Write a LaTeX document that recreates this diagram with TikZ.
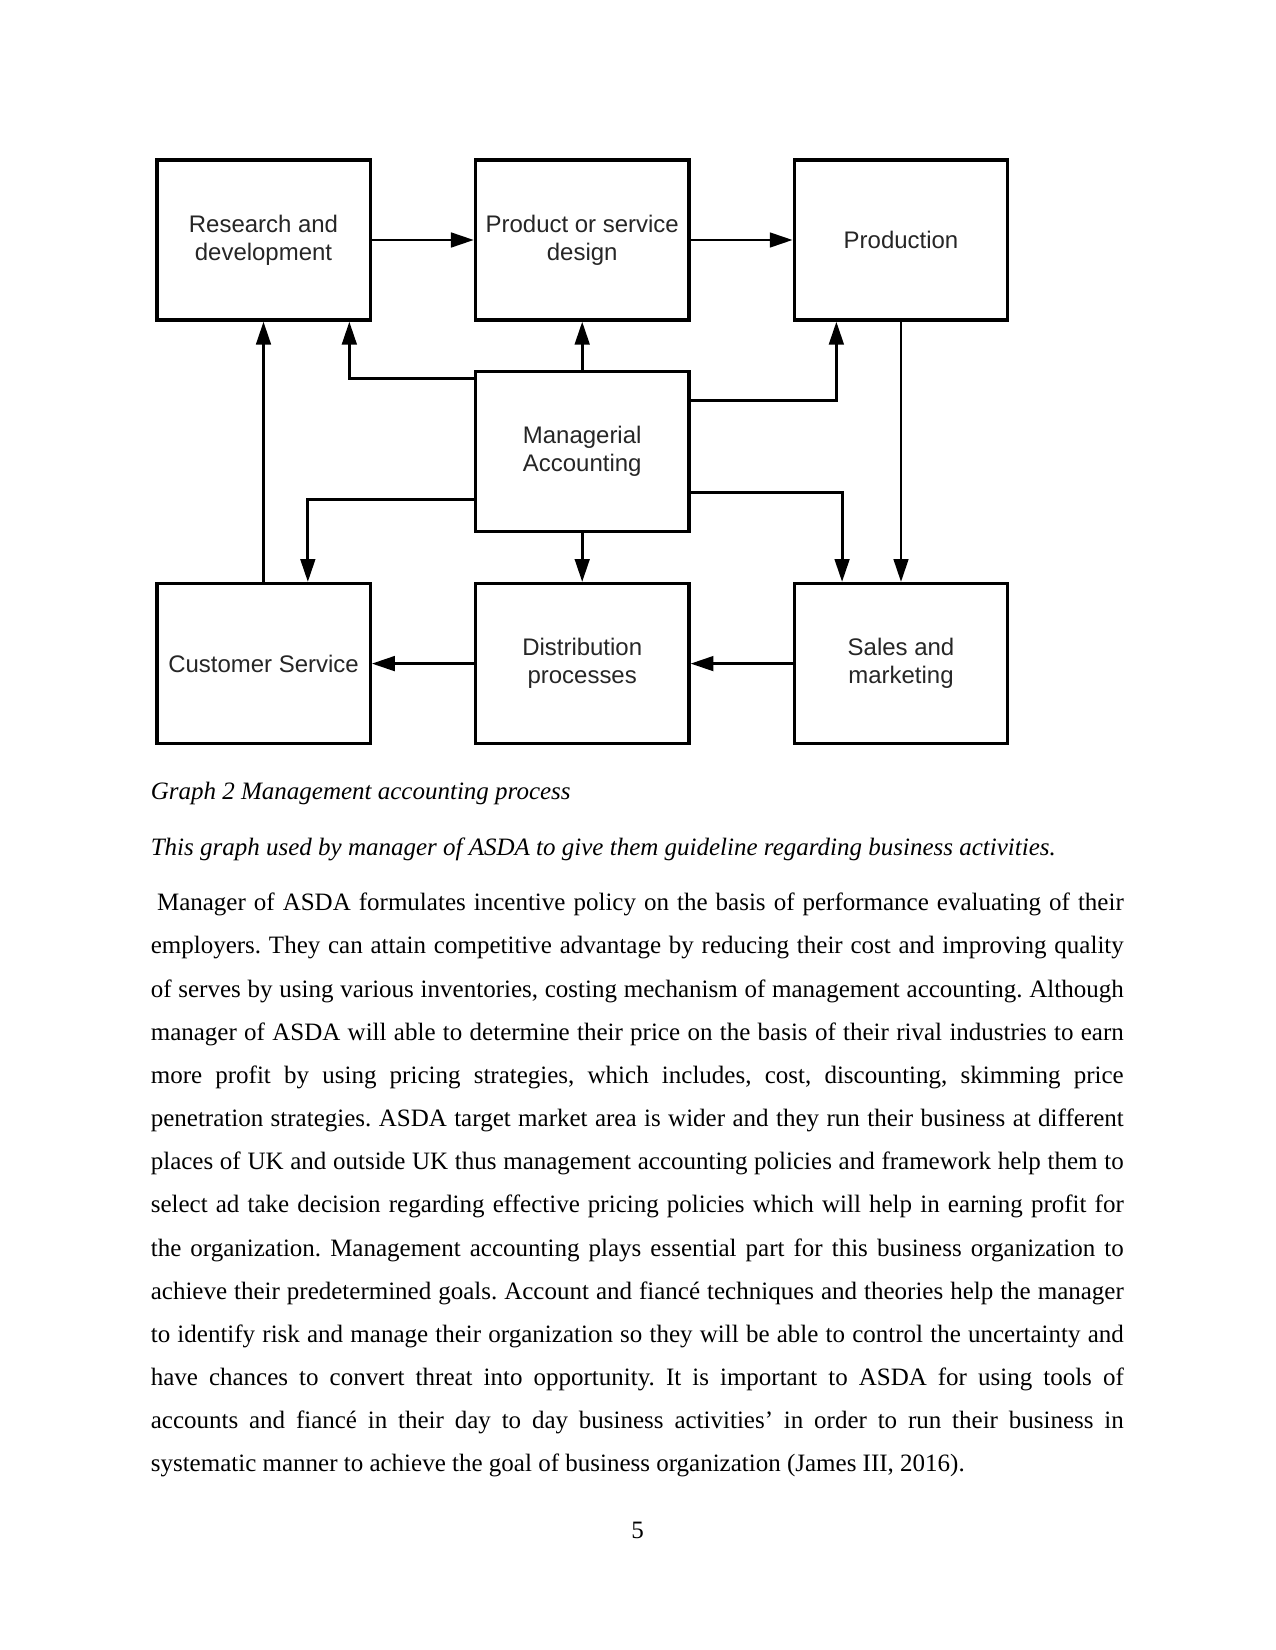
\documentclass[tikz,border=0pt]{standalone}
\usepackage{fontspec}
\setmainfont{Liberation Serif}
\newfontfamily\diagfont{Liberation Sans}
\usetikzlibrary{arrows.meta,calc}
\frenchspacing
\tikzset{
  box/.style={draw=black, line width=1.6pt, minimum width=102.4pt, minimum height=76.8pt,
    inner sep=2pt, align=center, font=\diagfont\fontsize{11.5}{13.6}\selectfont, text=black!85},
  conn/.style={line width=1.4pt, -{Triangle[length=11pt,width=7pt]}},
  bodyline/.style={anchor=base west, inner sep=0pt, font=\fontsize{12}{14}\selectfont},
  capline/.style={anchor=base west, inner sep=0pt, font=\fontsize{12}{14}\selectfont\itshape},
}
\newcommand{\jline}[1]{\makebox[467pt][s]{#1}}
\begin{document}
\begin{tikzpicture}[x=0.48pt,y=-0.48pt]
\useasboundingbox[fill=white] (0,0) rectangle (1275,1650);

% boxes
\node[box] (rd)   at (263.5,240)   {Research and\\development};
\node[box] (pd)   at (582.2,240)   {Product or service\\design};
\node[box] (prod) at (901,240)     {Production};
\node[box] (ma)   at (582.2,451.2) {Managerial\\Accounting};
\node[box] (cs)   at (263.5,663.6) {Customer Service};
\node[box] (dp)   at (582.2,663.6) {Distribution\\processes};
\node[box] (sm)   at (901,663.6)   {Sales and\\marketing};

% connectors
\draw[conn] (rd.east) -- (pd.west);
\draw[conn] (pd.east) -- (prod.west);
\draw[conn] (cs.north) -- (rd.south);
\draw[conn] ($(ma.north west)+(0,9)$) -| ($(rd.south east)+(-22.5,0)$);
\draw[conn] (ma.north) -- (pd.south);
\draw[conn] ($(ma.north east)+(0,31)$) -| ($(prod.south west)+(43.7,0)$);
\draw[conn] ($(ma.south west)+(0,-33)$) -| ($(cs.north east)+(-64,0)$);
\draw[conn] ($(ma.south east)+(0,-40)$) -| ($(sm.north west)+(49.4,0)$);
\draw[conn] (prod.south) -- (sm.north);
\draw[conn] (ma.south) -- (dp.north);
\draw[conn] (sm.west) -- (dp.east);
\draw[conn] (dp.west) -- (cs.east);

% captions
\node[capline] (cap1) at (150.4,799) {Graph 2 Management accounting process};
\node[capline] (cap2) at (150.4,855.5) {This graph used by manager of ASDA to give them guideline regarding business activities.};

% body text
\node[bodyline] (l1)  at (150.4,910.7)  {\jline{\hspace*{3pt}Manager of ASDA formulates incentive policy on the basis of performance evaluating of their}};
\node[bodyline] (l2)  at (150.4,953.9)  {\jline{employers. They can attain competitive advantage by reducing their cost and improving quality}};
\node[bodyline] (l3)  at (150.4,997.0)  {\jline{of serves by using various inventories, costing mechanism of management accounting. Although}};
\node[bodyline] (l4)  at (150.4,1040.2) {\jline{manager of ASDA will able to determine their price on the basis of their rival industries to earn}};
\node[bodyline] (l5)  at (150.4,1083.4) {\jline{more profit by using pricing strategies, which includes, cost, discounting, skimming price}};
\node[bodyline] (l6)  at (150.4,1126.6) {\jline{penetration strategies. ASDA target market area is wider and they run their business at different}};
\node[bodyline] (l7)  at (150.4,1169.7) {\jline{places of UK and outside UK thus management accounting policies and framework help them to}};
\node[bodyline] (l8)  at (150.4,1212.9) {\jline{select ad take decision regarding effective pricing policies which will help in earning profit for}};
\node[bodyline] (l9)  at (150.4,1256.1) {\jline{the organization. Management accounting plays essential part for this business organization to}};
\node[bodyline] (l10) at (150.4,1299.2) {\jline{achieve their predetermined goals. Account and fiancé techniques and theories help the manager}};
\node[bodyline] (l11) at (150.4,1342.4) {\jline{to identify risk and manage their organization so they will be able to control the uncertainty and}};
\node[bodyline] (l12) at (150.4,1385.6) {\jline{have chances to convert threat into opportunity. It is important to ASDA for using tools of}};
\node[bodyline] (l13) at (150.4,1428.8) {\jline{accounts and fiancé in their day to day business activities’ in order to run their business in}};
\node[bodyline] (l14) at (150.4,1471.9) {systematic manner to achieve the goal of business organization (James III, 2016).};

% page number
\node[anchor=base, inner sep=0pt, font=\fontsize{12}{14}\selectfont] (pg) at (637.5,1538) {5};
\end{tikzpicture}
\end{document}
